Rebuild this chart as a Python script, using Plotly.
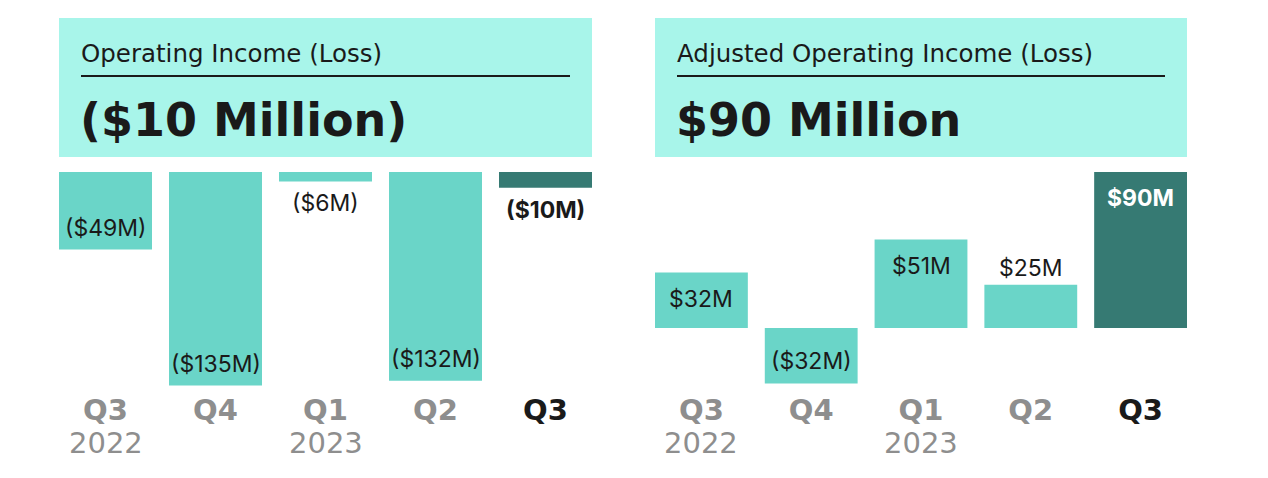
import plotly.graph_objects as go

W, H = 1268, 478

quarters = ["Q3", "Q4", "Q1", "Q2", "Q3"]
years = ["2022", "", "2023", "", ""]
op_income = [-49, -135, -6, -132, -10]
op_labels = ["($49M)", "($135M)", "($6M)", "($132M)", "($10M)"]
adj_income = [32, -32, 51, 25, 90]
adj_labels = ["$32M", "($32M)", "$51M", "$25M", "$90M"]
op_title = "Operating Income (Loss)"
op_headline = "($10 Million)"
adj_title = "Adjusted Operating Income (Loss)"
adj_headline = "$90 Million"

# styles
op_pos = ["inside", "inside", "outside", "inside", "outside"]
adj_pos = ["inside", "inside", "inside", "outside", "inside"]
LIGHT = "#6AD5C8"
DARK = "#367A73"
HEAD = "#A8F5EA"
INK = "#1a1a1a"
GRAY = "#8e8e8e"
colors = [LIGHT, LIGHT, LIGHT, LIGHT, DARK]
xs = list(range(len(quarters)))

def px(x):
    return x / W

def py(y):
    return 1 - y / H

fig = go.Figure()
fig.add_trace(go.Bar(x=xs, y=op_income, marker=dict(color=colors, line=dict(width=0)),
                     xaxis="x", yaxis="y", hoverinfo="skip"))
fig.add_trace(go.Bar(x=xs, y=adj_income, marker=dict(color=colors, line=dict(width=0)),
                     xaxis="x2", yaxis="y2", hoverinfo="skip"))

ticktext = [f"<b>{q}</b>" if i < len(quarters) - 1 else f"<span style='color:{INK}'><b>{q}</b></span>"
            for i, q in enumerate(quarters)]

ydom = [py(390), py(172)]
xcommon = dict(tickvals=xs, ticktext=ticktext, range=[-0.4227, 4.4227], showgrid=False,
               zeroline=False, showline=False, ticks="",
               tickfont=dict(family="DejaVu Sans", size=29, color=GRAY), fixedrange=True)
ycommon = dict(visible=False, showgrid=False, zeroline=False, domain=ydom, fixedrange=True)

fig.update_layout(
    width=W, height=H, margin=dict(l=0, r=0, t=0, b=0),
    paper_bgcolor="white", plot_bgcolor="white", showlegend=False,
    bargap=0.1545,
    xaxis=dict(domain=[px(59), px(592)], anchor="y", **xcommon),
    yaxis=dict(range=[-137.8, 0], anchor="x", **ycommon),
    xaxis2=dict(domain=[px(655), px(1187)], anchor="y2", **xcommon),
    yaxis2=dict(range=[-35.8, 90], anchor="x2", **ycommon),
)

shapes = []
annotations = []
for (x0, x1, title, headline) in [(59, 592, op_title, op_headline), (655, 1187, adj_title, adj_headline)]:
    shapes.append(dict(type="rect", xref="paper", yref="paper", x0=px(x0), x1=px(x1),
                       y0=py(157), y1=py(18), fillcolor=HEAD, line=dict(width=0), layer="below"))
    shapes.append(dict(type="line", xref="paper", yref="paper", x0=px(x0 + 22), x1=px(x1 - 22),
                       y0=py(76), y1=py(76), line=dict(color=INK, width=2)))
    annotations.append(dict(xref="paper", yref="paper", x=px(x0 + 20), y=py(53), xanchor="left",
                            yanchor="middle", text=title, showarrow=False,
                            font=dict(family="DejaVu Sans", size=24.5, color=INK)))
    annotations.append(dict(xref="paper", yref="paper", x=px(x0 + 19), y=py(120), xanchor="left",
                            yanchor="middle", text=f"<b>{headline}</b>", showarrow=False,
                            font=dict(family="DejaVu Sans", size=46, color=INK)))

def value_labels(vals, labels, pos, xref, yref, last_color):
    out = []
    for i, (v, t, p) in enumerate(zip(vals, labels, pos)):
        if p == "inside":
            shift = -26 if v > 0 else 22
        else:
            shift = 17 if v > 0 else -22
        last = i == len(vals) - 1
        out.append(dict(xref=xref, yref=yref, x=xs[i], y=v, yshift=shift, showarrow=False,
                        xanchor="center", yanchor="middle",
                        text=f"<b>{t}</b>" if last else t,
                        font=dict(family="Inter", size=23, color=last_color if last else INK)))
    return out

annotations += value_labels(op_income, op_labels, op_pos, "x", "y", INK)
annotations += value_labels(adj_income, adj_labels, adj_pos, "x2", "y2", "white")

for xr in ["x", "x2"]:
    for i, yr in enumerate(years):
        if yr:
            annotations.append(dict(xref=xr, yref="paper", x=xs[i], y=py(443), xanchor="center",
                                    yanchor="middle", text=yr, showarrow=False,
                                    font=dict(family="DejaVu Sans", size=29, color=GRAY)))

fig.update_layout(shapes=shapes, annotations=annotations)
fig.write_html("out.html")
